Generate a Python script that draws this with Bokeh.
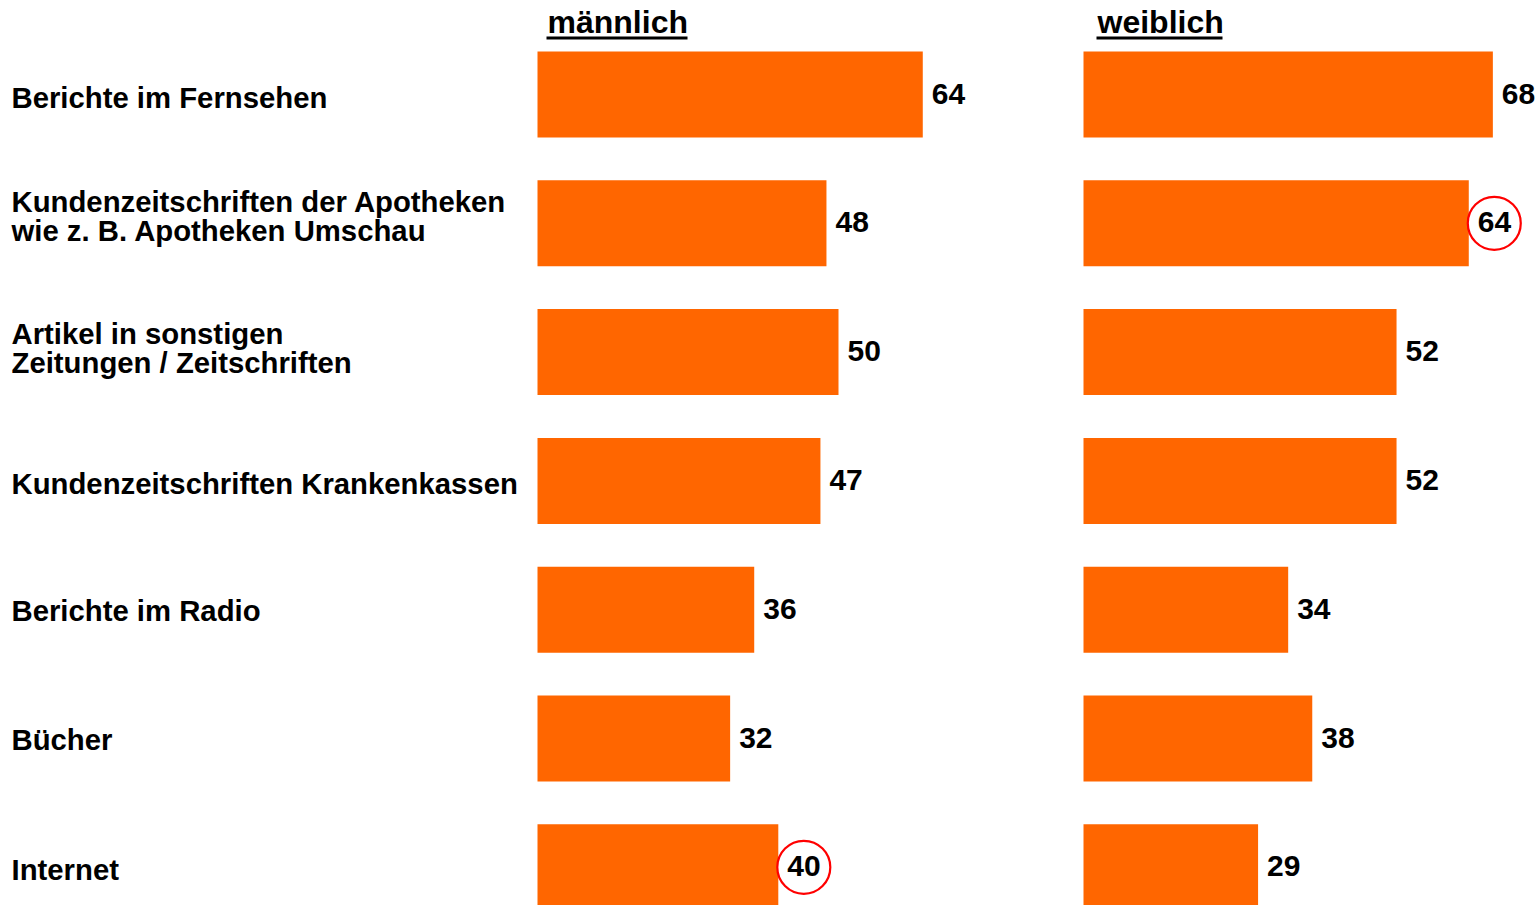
from bokeh.plotting import figure
from bokeh.models import ColumnDataSource, Range1d
from bokeh.core.properties import value
from bokeh.embed import file_html
from bokeh.resources import INLINE

# ---- data ----
categories = [
    "Berichte im Fernsehen",
    "Kundenzeitschriften der Apotheken\nwie z. B. Apotheken Umschau",
    "Artikel in sonstigen\nZeitungen / Zeitschriften",
    "Kundenzeitschriften Krankenkassen",
    "Berichte im Radio",
    "Bücher",
    "Internet",
]
maennlich = [64, 48, 50, 47, 36, 32, 40]
weiblich = [68, 64, 52, 52, 34, 38, 29]
highlight_m = [False, False, False, False, False, False, True]
highlight_w = [False, True, False, False, False, False, False]
headers = ["männlich", "weiblich"]

# ---- layout (pixel geometry) ----
W, H = 1538, 905
S = 6.02          # px per percent
P = 128.8         # row pitch px
M_LEFT_PX = 537   # page x of male bar start
F_LEFT_PX = 1083  # page x of female bar start
ROW0_PX = 94      # page y of first row centre

x_start = -M_LEFT_PX / S
x_end = x_start + W / S
y_end = ROW0_PX / P
y_start = y_end - H / P


def px2x(px):
    return x_start + px / S


def px2y(py):
    return y_end - py / P


F_OFF = (F_LEFT_PX - M_LEFT_PX) / S
BAR_H = 86 / P
ORANGE = "#FF6600"
FONT = value("Liberation Sans")

p = figure(width=W, height=H, output_backend="svg", toolbar_location=None,
           x_range=Range1d(x_start, x_end), y_range=Range1d(y_start, y_end),
           min_border=0, outline_line_color=None, background_fill_color="white",
           border_fill_color="white")
p.axis.visible = False
p.grid.visible = False

ys = [-i for i in range(len(categories))]

for vals, off, hl in ((maennlich, 0.0, highlight_m), (weiblich, F_OFF, highlight_w)):
    src = ColumnDataSource(dict(
        y=ys, left=[off] * len(vals), right=[off + v for v in vals],
        lab=[str(v) for v in vals]))
    p.hbar(y="y", left="left", right="right", height=BAR_H, source=src,
           fill_color=ORANGE, line_color=None)
    cx = [off + v + 25.5 / S for v, h in zip(vals, hl) if h]
    cy = [y for y, h in zip(ys, hl) if h]
    p.scatter(x=cx, y=cy, marker="circle", size=53, fill_color="white",
              line_color="#ff0000", line_width=2.2)
    p.text(x="right", y="y", text="lab", source=src, x_offset=9, y_offset=-1,
           text_font=FONT, text_font_style="bold", text_font_size="30px",
           text_baseline="middle", text_align="left", text_color="black")

# category labels
label_dy = [3, -7, -4, 3, 1, 1, 2]
lsrc = ColumnDataSource(dict(x=[px2x(11)] * len(categories), y=ys,
                             text=categories, dy=label_dy))
p.text(x="x", y="y", text="text", y_offset="dy", source=lsrc,
       text_font=FONT, text_font_style="bold", text_font_size="29.3px",
       text_baseline="middle", text_align="left", text_line_height=0.88,
       text_color="black")

# headers with underline
hx = [px2x(547), px2x(1097)]
p.text(x=hx, y=[px2y(21)] * 2, text=headers, text_font=FONT,
       text_font_style="bold", text_font_size="32px",
       text_baseline="middle", text_align="left", text_color="black")
p.segment(x0=[px2x(546), px2x(1096)], y0=[px2y(37.5)] * 2,
          x1=[px2x(687), px2x(1222)], y1=[px2y(37.5)] * 2,
          line_color="black", line_width=3)

open("out.html", "w").write(file_html(p, INLINE))
